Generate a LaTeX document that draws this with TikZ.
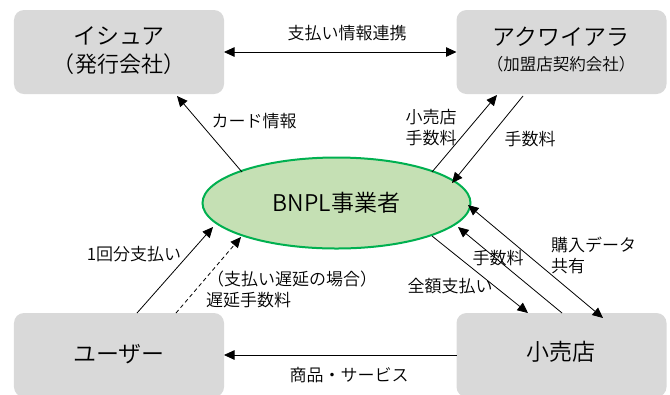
\documentclass[tikz,border=0pt]{standalone}
\usepackage{fontspec}
\setmainfont{Noto Sans CJK JP DemiLight}
\usetikzlibrary{arrows.meta,shapes.geometric}
\definecolor{boxgray}{HTML}{D9D9D9}
\definecolor{bnplfill}{HTML}{C5E0B4}
\definecolor{bnplline}{HTML}{00B050}
\begin{document}
\begin{tikzpicture}[x=1bp,y=-1bp,
  box/.style={fill=boxgray, rounded corners=10bp, minimum width=210bp, minimum height=84bp, inner sep=0, outer sep=0},
  big/.style={font=\fontsize{23bp}{28bp}\selectfont, inner sep=0},
  mid/.style={font=\fontsize{22bp}{26bp}\selectfont, inner sep=0},
  small/.style={font=\fontsize{16.5bp}{20bp}\selectfont, inner sep=0},
  lbl/.style={font=\fontsize{17bp}{21bp}\selectfont, inner sep=0},
  tip/.tip={Triangle[length=10.5bp,width=9.5bp]},
  conn/.style={line width=0.8bp, -tip},
  both/.style={line width=0.8bp, tip-tip},
]
\useasboundingbox (0,0) rectangle (670,394);
\clip (0,0) rectangle (670,394);

% boxes
\node[box] (issuer) at (119,52) {};
\node[box] (acq) at (561.5,52) {};
\node[box] (user) at (119,355) {};
\node[box] (retail) at (561.5,355) {};
\node[ellipse, draw=bnplline, line width=2bp, fill=bnplfill, minimum width=268bp, minimum height=91bp, inner sep=0, outer sep=0, font=\fontsize{23bp}{28bp}\selectfont] (bnpl) at (336.5,203) {BNPL事業者};

% box texts
\node[big] (issuerA) at (119,36) {イシュア};
\node[mid] (issuerB) at (119,64) {（発行会社）};
\node[big] (acqA) at (561,37) {アクワイアラ};
\node[small] (acqB) at (561,64) {（加盟店契約会社）};
\node[big] (userT) at (119,354) {ユーザー};
\node[big] (retailT) at (561,352) {小売店};

% endpoints
\coordinate (p1s) at (242,172); \coordinate (p1e) at (177,96);
\coordinate (p2s) at (432,172); \coordinate (p2e) at (497,95);
\coordinate (p3s) at (523,96);  \coordinate (p3e) at (452,183);
\coordinate (p4s) at (137,313); \coordinate (p4e) at (213,227);
\coordinate (p5s) at (176,313); \coordinate (p5e) at (241,237);
\coordinate (p6s) at (432,236); \coordinate (p6e) at (528,313);
\coordinate (p7s) at (562,313); \coordinate (p7e) at (458,227);
\coordinate (p8s) at (468,205); \coordinate (p8e) at (603,318);

% connectors
\draw[both] (issuer.east) -- (acq.west);
\draw[conn] (p1s) -- (p1e);
\draw[conn] (p2s) -- (p2e);
\draw[conn] (p3s) -- (p3e);
\draw[conn] (p4s) -- (p4e);
\draw[conn, dashed, dash pattern=on 4bp off 3bp] (p5s) -- (p5e);
\draw[conn] (p6s) -- (p6e);
\draw[conn] (p7s) -- (p7e);
\draw[both] (p8s) -- (p8e);
\draw[conn] (retail.west) -- (user.east);

% labels
\node[lbl] (l1) at (347,33) {支払い情報連携};
\node[lbl] (l2) at (254,121) {カード情報};
\node[lbl] (l3a) at (431,117) {小売店};
\node[lbl] (l3b) at (431,138) {手数料};
\node[lbl] (l4) at (530,139) {手数料};
\node[lbl] (l5) at (134,254) {1回分支払い};
\node[lbl, anchor=west] (l6a) at (207,279) {（支払い遅延の場合）};
\node[lbl, anchor=west] (l6b) at (206,300) {遅延手数料};
\node[lbl] (l7) at (498,258) {手数料};
\node[lbl] (l8) at (450,286) {全額支払い};
\node[lbl, anchor=west] (l9a) at (551,245) {購入データ};
\node[lbl, anchor=west] (l9b) at (551,266) {共有};
\node[lbl] (l10) at (349,375) {商品・サービス};
\end{tikzpicture}
\end{document}
